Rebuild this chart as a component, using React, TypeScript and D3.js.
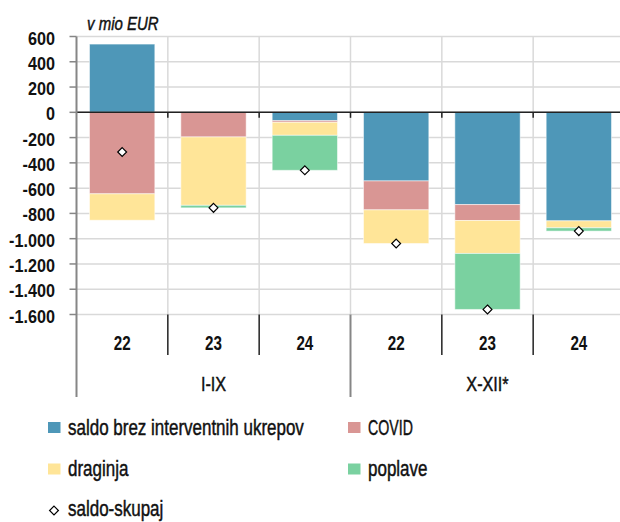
import React from "react";
import * as d3 from "d3";

// values in mio EUR
const categories = ["22", "23", "24", "22", "23", "24"];
const groups = ["I-IX", "X-XII*"];
const saldoBrez = [540, 0, -66, -543, -730, -859];
const covid = [-645, -195, -13, -229, -126, 0];
const draginja = [-209, -541, -103, -266, -261, -55];
const poplave = [0, -20, -277, 0, -443, -26];
const saldoSkupaj = [-314, -756, -459, -1038, -1560, -940];
const yTicks = [600, 400, 200, 0, -200, -400, -600, -800, -1000, -1200, -1400, -1600];

const seriesKeys = ["saldo", "covid", "draginja", "poplave"];
const seriesNames = ["saldo brez interventnih ukrepov", "COVID", "draginja", "poplave"];
const colors = ["#4e97b8", "#d99694", "#ffe598", "#7ad1a0"];

const width = 620;
const height = 522;
const left = 76.5;
const right = 624.5;
const top = 36.5;
const bottom = 314.5;
const font = "'Liberation Sans', Arial, sans-serif";
const ink = "#111";

const locale = d3.formatLocale({
  decimal: ",",
  thousands: ".",
  grouping: [3],
  currency: ["", " EUR"],
  minus: "-",
});
const fmt = locale.format(",d");

// text squeezed horizontally to mimic the condensed face of the original
function Txt({ x, y, sx = 0.79, size = 21.5, anchor = "start", weight = "normal", italic = false, children }: any) {
  return (
    <text
      transform={`translate(${x},${y}) scale(${sx},1)`}
      textAnchor={anchor}
      fontSize={size}
      fontWeight={weight}
      fontStyle={italic ? "italic" : "normal"}
      fill={ink}
      stroke={weight === "bold" ? "none" : ink}
      strokeWidth={0.45}
    >
      {children}
    </text>
  );
}

export default function App() {
  const rows = categories.map((c, i) => ({
    idx: i,
    saldo: saldoBrez[i],
    covid: covid[i],
    draginja: draginja[i],
    poplave: poplave[i],
  }));
  const stacked = d3
    .stack<any>()
    .keys(seriesKeys)
    .offset(d3.stackOffsetDiverging)(rows);

  const x = d3
    .scaleBand<number>()
    .domain(d3.range(categories.length))
    .range([left, right])
    .paddingInner(0.285)
    .paddingOuter(0.1425);
  const step = x.step();
  const edge = (i: number) => left + i * step;

  const y = d3.scaleLinear().domain([-1600, 600]).range([bottom, top]);

  const diamond = d3.symbol().type(d3.symbolDiamond2).size(50)();

  return (
    <svg
      width={width}
      height={height}
      style={{ position: "absolute", left: 0, top: 0, background: "#fff" }}
      fontFamily={font}
    >
      {/* grid */}
      {yTicks.map((t) => (
        <line key={"g" + t} x1={left} x2={right} y1={y(t)} y2={y(t)} stroke="#d9d9d9" strokeWidth={1.5} />
      ))}
      {d3.range(1, categories.length).map((i) => (
        <line key={"v" + i} x1={edge(i)} x2={edge(i)} y1={top} y2={bottom} stroke="#d9d9d9" strokeWidth={1.5} />
      ))}

      {/* bars */}
      {stacked.map((s, si) => (
        <g key={s.key} fill={colors[si]}>
          {s.map((d, i) =>
            d[1] - d[0] === 0 ? null : (
              <rect
                key={i}
                x={x(i)}
                width={x.bandwidth()}
                y={y(d[1])}
                height={y(d[0]) - y(d[1])}
                stroke="#ffffff"
                strokeOpacity={0.5}
                strokeWidth={1}
              />
            )
          )}
        </g>
      ))}

      {/* zero line + small ticks */}
      <line x1={left} x2={right} y1={y(0)} y2={y(0)} stroke="#222" strokeWidth={1.5} />
      {d3.range(1, categories.length).map((i) => (
        <line key={"zt" + i} x1={edge(i)} x2={edge(i)} y1={y(0)} y2={y(0) + 5.5} stroke="#222" strokeWidth={1.5} />
      ))}

      {/* total markers */}
      {saldoSkupaj.map((v, i) => (
        <path
          key={"m" + i}
          d={diamond}
          transform={`translate(${x(i)! + x.bandwidth() / 2},${y(v)})`}
          fill="#fff"
          stroke="#000"
          strokeWidth={1.2}
        />
      ))}

      {/* y axis */}
      <line x1={left} x2={left} y1={top} y2={397} stroke="#868686" strokeWidth={2} />
      {yTicks.map((t) => (
        <g key={"t" + t}>
          <line x1={left - 7} x2={left} y1={y(t)} y2={y(t)} stroke="#868686" strokeWidth={1.5} />
          <Txt x={55} y={y(t) + 8} anchor="end" size={18} sx={0.9} weight="bold">
            {fmt(t)}
          </Txt>
        </g>
      ))}
      <Txt x={87} y={30} size={18.5} sx={0.81} italic>
        v mio EUR
      </Txt>

      {/* category axis */}
      {d3.range(1, categories.length).map((i) =>
        i === 3 ? (
          <line key={"c" + i} x1={edge(i)} x2={edge(i)} y1={bottom} y2={397} stroke="#868686" strokeWidth={2} />
        ) : (
          <line key={"c" + i} x1={edge(i)} x2={edge(i)} y1={bottom} y2={355} stroke="#222" strokeWidth={1.5} />
        )
      )}
      {categories.map((c, i) => (
        <Txt key={"cl" + i} x={x(i)! + x.bandwidth() / 2} y={350} anchor="middle" size={19.5} sx={0.78} weight="bold">
          {c}
        </Txt>
      ))}
      {groups.map((g, gi) => (
        <Txt key={g} x={edge(gi * 3) + (step * 3) / 2} y={391} anchor="middle" size={20.5}>
          {g}
        </Txt>
      ))}

      {/* legend */}
      {seriesNames.map((n, i) => {
        const lx = i % 2 === 0 ? 48 : 348;
        const ly = i < 2 ? 427.5 : 469;
        return (
          <g key={n}>
            <rect x={lx} y={ly - 5.5} width={12.5} height={11} fill={colors[i]} />
            <Txt x={lx + 20} y={ly + 7} sx={n === "COVID" ? 0.66 : 0.79}>
              {n}
            </Txt>
          </g>
        );
      })}
      <path d={diamond} transform="translate(54,510.5)" fill="#fff" stroke="#000" strokeWidth={1.2} />
      <Txt x={68} y={516}>saldo-skupaj</Txt>
    </svg>
  );
}
